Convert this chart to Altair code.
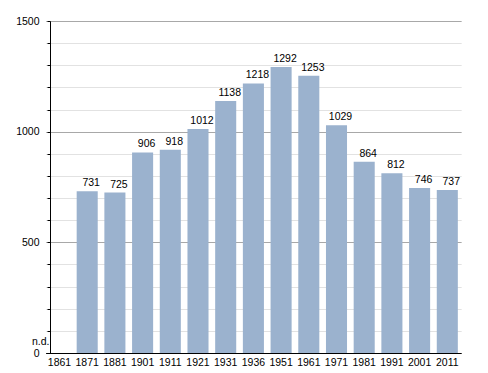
import altair as alt
import pandas as pd

years = ["1861", "1871", "1881", "1901", "1911", "1921", "1931", "1936",
         "1951", "1961", "1971", "1981", "1991", "2001", "2011"]
values = [None, 731, 725, 906, 918, 1012, 1138, 1218, 1292, 1253, 1029, 864, 812, 746, 737]
nd_label = "n.d."

df = pd.DataFrame({"year": years, "value": values})
df["label"] = df["value"].apply(lambda v: nd_label if pd.isna(v) else str(int(v)))
df["ypos"] = df["value"].fillna(0)

font = "Liberation Sans"
n = len(df)
step = 27.7
r0 = -4.35
xscale = alt.Scale(domain=years, range=[r0, r0 + step * n],
                   paddingInner=0.24, paddingOuter=0.12)
yscale = alt.Scale(domain=[0, 1500], nice=False)

xaxis = alt.Axis(title=None, labelAngle=0, tickSize=0, labelPadding=4,
                 labelFont=font, labelFontSize=10.5, labelColor="#000",
                 labelOverlap=False, labelBound=False,
                 domainColor="#000", grid=False)
yaxis = alt.Axis(title=None, values=list(range(0, 1501, 100)),
                 labelExpr="datum.value % 500 === 0 ? datum.label : ''",
                 format="d", tickSize=3, tickColor="#000", domainColor="#000",
                 labelFont=font, labelFontSize=10.5, labelColor="#000",
                 labelPadding=8, labelOverlap=False, labelBound=False,
                 labelFlush=False,
                 gridColor={"condition": {"test": "datum.value % 500 === 0",
                                          "value": "#a8a8a8"},
                            "value": "#e2e2e2"})

base = alt.Chart(df)

bars = base.transform_filter("isValid(datum.value)").mark_bar(
    color="#9bb2ce"
).encode(
    x=alt.X("year:N", scale=xscale, sort=None, axis=xaxis),
    y=alt.Y("value:Q", scale=yscale, axis=yaxis),
)

labels = base.transform_filter("isValid(datum.value)").mark_text(
    font=font, fontSize=10.5, color="#000", baseline="alphabetic", dy=-5, dx=4
).encode(
    x=alt.X("year:N", scale=xscale, sort=None, axis=xaxis),
    y=alt.Y("ypos:Q", scale=yscale, axis=yaxis),
    text="label:N",
)

nd = base.transform_filter("!isValid(datum.value)").mark_text(
    font=font, fontSize=10.5, color="#000", baseline="alphabetic", align="right",
    dx=-10, dy=-8
).encode(
    x=alt.X("year:N", scale=xscale, sort=None, axis=xaxis),
    y=alt.Y("ypos:Q", scale=yscale, axis=yaxis),
    text="label:N",
)

chart = alt.layer(bars, labels, nd).properties(
    width=410, height=332,
    autosize=alt.AutoSizeParams(type="none"),
    padding={"left": 42, "top": 13, "right": 10, "bottom": 18},
).configure_view(stroke=None).configure_axis(domainWidth=1)

chart.save("out.html", embed_options={"renderer": "svg", "actions": False})
